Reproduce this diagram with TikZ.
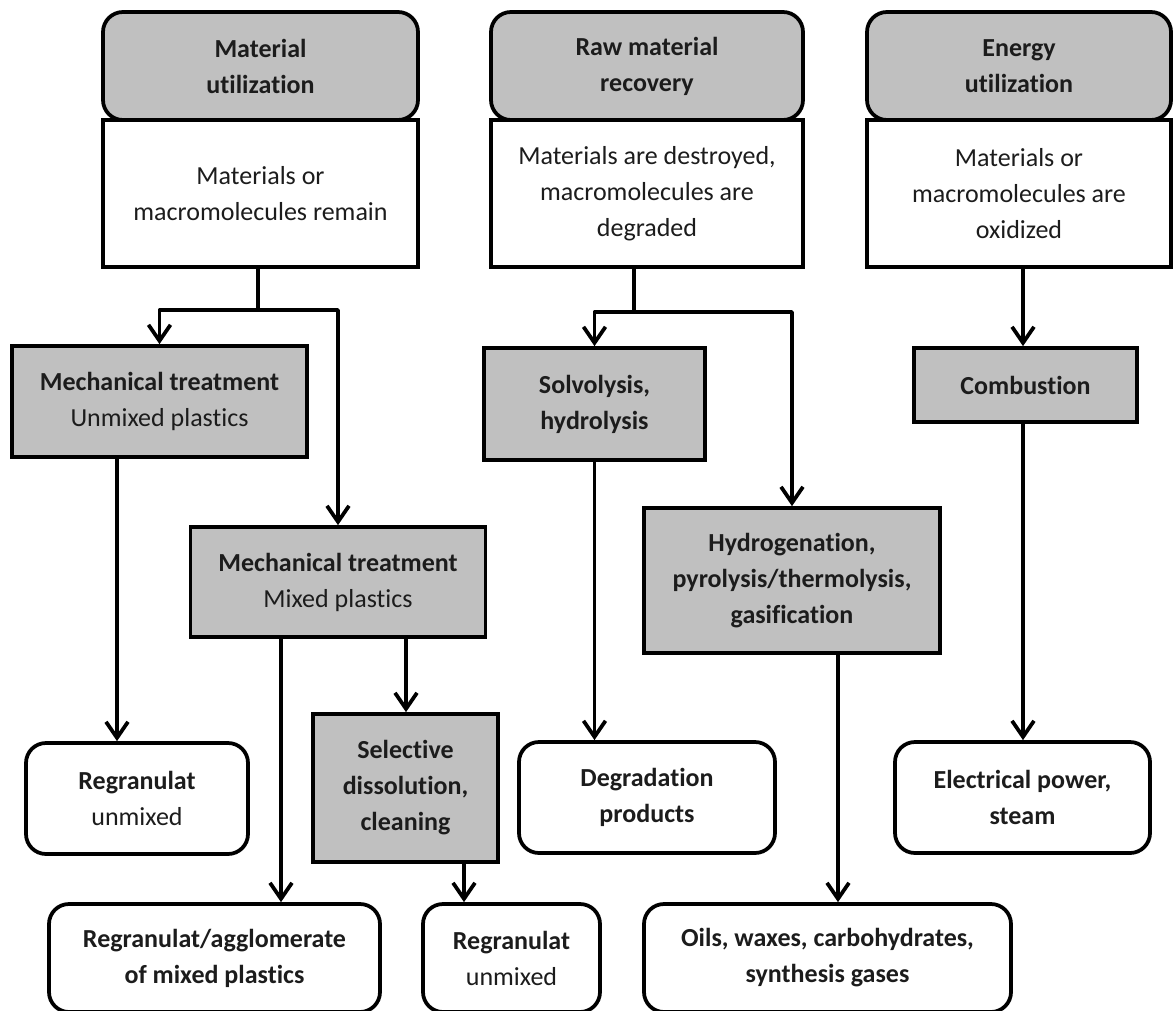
\documentclass[tikz,border=0pt]{standalone}
\usepackage{fontspec}
\setmainfont{Carlito}[Ligatures=NoCommon]
\usetikzlibrary{arrows.meta}

\definecolor{boxgray}{RGB}{192,192,192}
\definecolor{inkgray}{RGB}{28,28,28}

\begin{document}
\begin{tikzpicture}[x=0.2mm, y=-0.2mm,
    base/.style={draw=black, line width=0.75mm, text=inkgray, align=center, inner sep=2pt,
                 font=\fontsize{14.8pt}{20.5pt}\selectfont},
    head/.style={base, fill=boxgray, rounded corners=4mm, font=\fontsize{14.8pt}{20.5pt}\selectfont\bfseries},
    descr/.style={base, fill=white},
    proc/.style={base, fill=boxgray, font=\fontsize{14.8pt}{20.5pt}\selectfont\bfseries},
    result/.style={base, fill=white, rounded corners=4mm, font=\fontsize{14.8pt}{20.5pt}\selectfont\bfseries},
    link/.style={line width=0.75mm, line cap=round, line join=round},
    arr/.style={link, -{Straight Barb[length=3.2mm, width=4.4mm]}}
  ]
  \clip (0,0) rectangle (1175,1010);

  % three routes
  \node[head, minimum width=63mm, minimum height=21.6mm] (hdmat) at (260.5,66) {Material\\utilization};
  \node[descr, minimum width=63mm, minimum height=29.4mm] (txmat) at (260.5,193.5) {Materials or\\macromolecules remain};
  \node[head, minimum width=62.4mm, minimum height=21.6mm] (hdraw) at (647,66) {Raw material\\recovery};
  \node[descr, minimum width=62.4mm, minimum height=29.4mm] (txraw) at (647,193.5) {Materials are destroyed,\\macromolecules are\\degraded};
  \node[head, minimum width=60.8mm, minimum height=21.6mm] (hden) at (1019,66) {Energy\\utilization};
  \node[descr, minimum width=60.8mm, minimum height=29.4mm] (txen) at (1019,193.5) {Materials or\\macromolecules are\\oxidized};

  % processes
  \node[proc, minimum width=59mm, minimum height=22.2mm] (mechu) at (159.5,401.5) {Mechanical treatment\\\mdseries Unmixed plastics};
  \node[proc, minimum width=59mm, minimum height=22mm] (mechm) at (338,582) {Mechanical treatment\\\mdseries Mixed plastics};
  \node[proc, minimum width=37mm, minimum height=29.6mm] (sel) at (405.5,788) {Selective\\dissolution,\\cleaning};
  \node[proc, minimum width=44.2mm, minimum height=22.4mm] (solv) at (594.5,404) {Solvolysis,\\hydrolysis};
  \node[proc, minimum width=59.2mm, minimum height=29mm] (hydro) at (792,580.5) {Hydrogenation,\\pyrolysis/thermolysis,\\gasification};
  \node[proc, minimum width=44.6mm, minimum height=14.8mm] (comb) at (1025.5,385) {Combustion};

  % products
  \node[result, minimum width=44.4mm, minimum height=22.2mm] (regu) at (137,798.5) {Regranulat\\\mdseries unmixed};
  \node[result, minimum width=66.2mm, minimum height=21.6mm] (aggl) at (214.5,958) {Regranulat/agglomerate\\of mixed plastics};
  \node[result, minimum width=35.4mm, minimum height=21.6mm] (regm) at (511.5,958) {Regranulat\\\mdseries unmixed};
  \node[result, minimum width=51.2mm, minimum height=22.2mm] (degr) at (647,797.5) {Degradation\\products};
  \node[result, minimum width=73.4mm, minimum height=21.6mm] (oils) at (827.5,958) {Oils, waxes, carbohydrates,\\synthesis gases};
  \node[result, minimum width=51mm, minimum height=22.2mm] (elec) at (1022.5,797.5) {Electrical power,\\steam};

  % lanes of the connectors
  \coordinate (matsplit) at (258,310);
  \coordinate (rawsplit) at (634,312);
  \coordinate (regulane) at (117,0);
  \coordinate (agglane) at (281,0);
  \coordinate (sellane) at (406,0);
  \coordinate (regmlane) at (464,0);
  \coordinate (oilslane) at (838,0);
  \coordinate (enlane) at (1023,0);

  \draw[link] (txmat.south -| matsplit) -- (matsplit);
  \draw[arr] (matsplit) -| (mechu.north);
  \draw[arr] (matsplit) -| (mechm.north);
  \draw[arr] (regulane |- mechu.south) -- (regulane |- regu.north);
  \draw[arr] (agglane |- mechm.south) -- (agglane |- aggl.north);
  \draw[arr] (sellane |- mechm.south) -- (sellane |- sel.north);
  \draw[arr] (regmlane |- sel.south) -- (regmlane |- regm.north);

  \draw[link] (txraw.south -| rawsplit) -- (rawsplit);
  \draw[arr] (rawsplit) -| (solv.north);
  \draw[arr] (rawsplit) -| (hydro.north);
  \draw[arr] (solv.south) -- (solv.south |- degr.north);
  \draw[arr] (oilslane |- hydro.south) -- (oilslane |- oils.north);

  \draw[arr] (enlane |- txen.south) -- (enlane |- comb.north);
  \draw[arr] (enlane |- comb.south) -- (enlane |- elec.north);
\end{tikzpicture}
\end{document}
